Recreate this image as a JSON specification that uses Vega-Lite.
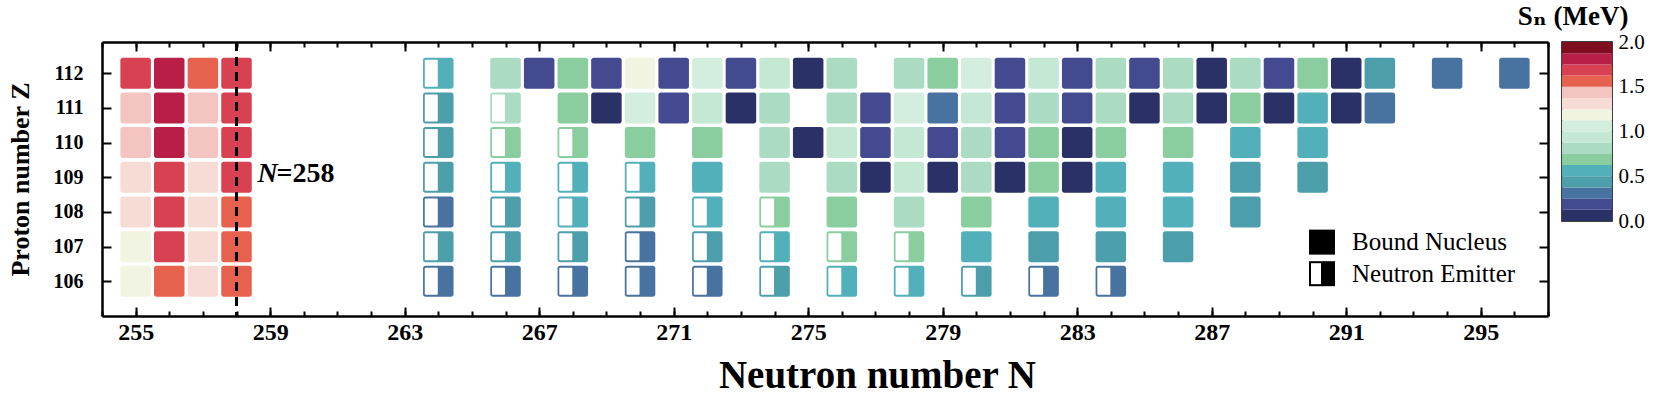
{
  "$schema": "https://vega.github.io/schema/vega-lite/v6.json",
  "background": "white",
  "padding": {"left": 7, "top": 2, "right": 4, "bottom": 4},
  "bounds": "flush",
  "spacing": 14,
  "config": {
    "view": {"stroke": null},
    "font": "Liberation Serif",
    "axis": {"labelColor": "black", "titleColor": "black", "tickColor": "black", "domainColor": "black", "grid": false, "labelFlush": false}
  },
  "datasets": {
    "cells": [
      {"N":255,"Z":112,"Sn":1.69,"kind":"B"},{"N":256,"Z":112,"Sn":1.81,"kind":"B"},{"N":257,"Z":112,"Sn":1.56,"kind":"B"},{"N":258,"Z":112,"Sn":1.69,"kind":"B"},
      {"N":264,"Z":112,"Sn":0.56,"kind":"E"},{"N":266,"Z":112,"Sn":0.81,"kind":"B"},{"N":267,"Z":112,"Sn":0.19,"kind":"B"},{"N":268,"Z":112,"Sn":0.69,"kind":"B"},
      {"N":269,"Z":112,"Sn":0.19,"kind":"B"},{"N":270,"Z":112,"Sn":1.19,"kind":"B"},{"N":271,"Z":112,"Sn":0.19,"kind":"B"},{"N":272,"Z":112,"Sn":1.06,"kind":"B"},
      {"N":273,"Z":112,"Sn":0.19,"kind":"B"},{"N":274,"Z":112,"Sn":0.94,"kind":"B"},{"N":275,"Z":112,"Sn":0.06,"kind":"B"},{"N":276,"Z":112,"Sn":0.81,"kind":"B"},
      {"N":278,"Z":112,"Sn":0.81,"kind":"B"},{"N":279,"Z":112,"Sn":0.69,"kind":"B"},{"N":280,"Z":112,"Sn":1.06,"kind":"B"},{"N":281,"Z":112,"Sn":0.19,"kind":"B"},
      {"N":282,"Z":112,"Sn":0.94,"kind":"B"},{"N":283,"Z":112,"Sn":0.19,"kind":"B"},{"N":284,"Z":112,"Sn":0.81,"kind":"B"},{"N":285,"Z":112,"Sn":0.19,"kind":"B"},
      {"N":286,"Z":112,"Sn":0.81,"kind":"B"},{"N":287,"Z":112,"Sn":0.06,"kind":"B"},{"N":288,"Z":112,"Sn":0.81,"kind":"B"},{"N":289,"Z":112,"Sn":0.19,"kind":"B"},
      {"N":290,"Z":112,"Sn":0.69,"kind":"B"},{"N":291,"Z":112,"Sn":0.06,"kind":"B"},{"N":292,"Z":112,"Sn":0.44,"kind":"B"},{"N":294,"Z":112,"Sn":0.31,"kind":"B"},
      {"N":296,"Z":112,"Sn":0.31,"kind":"B"},

      {"N":255,"Z":111,"Sn":1.44,"kind":"B"},{"N":256,"Z":111,"Sn":1.81,"kind":"B"},{"N":257,"Z":111,"Sn":1.44,"kind":"B"},{"N":258,"Z":111,"Sn":1.69,"kind":"B"},
      {"N":264,"Z":111,"Sn":0.44,"kind":"E"},{"N":266,"Z":111,"Sn":0.81,"kind":"E"},{"N":268,"Z":111,"Sn":0.69,"kind":"B"},{"N":269,"Z":111,"Sn":0.06,"kind":"B"},
      {"N":270,"Z":111,"Sn":1.06,"kind":"B"},{"N":271,"Z":111,"Sn":0.19,"kind":"B"},{"N":272,"Z":111,"Sn":0.94,"kind":"B"},{"N":273,"Z":111,"Sn":0.06,"kind":"B"},
      {"N":274,"Z":111,"Sn":0.81,"kind":"B"},{"N":276,"Z":111,"Sn":0.81,"kind":"B"},{"N":277,"Z":111,"Sn":0.19,"kind":"B"},{"N":278,"Z":111,"Sn":1.06,"kind":"B"},
      {"N":279,"Z":111,"Sn":0.31,"kind":"B"},{"N":280,"Z":111,"Sn":0.94,"kind":"B"},{"N":281,"Z":111,"Sn":0.19,"kind":"B"},{"N":282,"Z":111,"Sn":0.81,"kind":"B"},
      {"N":283,"Z":111,"Sn":0.19,"kind":"B"},{"N":284,"Z":111,"Sn":0.81,"kind":"B"},{"N":285,"Z":111,"Sn":0.06,"kind":"B"},{"N":286,"Z":111,"Sn":0.81,"kind":"B"},
      {"N":287,"Z":111,"Sn":0.06,"kind":"B"},{"N":288,"Z":111,"Sn":0.69,"kind":"B"},{"N":289,"Z":111,"Sn":0.06,"kind":"B"},{"N":290,"Z":111,"Sn":0.56,"kind":"B"},
      {"N":291,"Z":111,"Sn":0.06,"kind":"B"},{"N":292,"Z":111,"Sn":0.31,"kind":"B"},

      {"N":255,"Z":110,"Sn":1.44,"kind":"B"},{"N":256,"Z":110,"Sn":1.81,"kind":"B"},{"N":257,"Z":110,"Sn":1.44,"kind":"B"},{"N":258,"Z":110,"Sn":1.69,"kind":"B"},
      {"N":264,"Z":110,"Sn":0.44,"kind":"E"},{"N":266,"Z":110,"Sn":0.69,"kind":"E"},{"N":268,"Z":110,"Sn":0.69,"kind":"E"},{"N":270,"Z":110,"Sn":0.69,"kind":"B"},
      {"N":272,"Z":110,"Sn":0.69,"kind":"B"},{"N":274,"Z":110,"Sn":0.81,"kind":"B"},{"N":275,"Z":110,"Sn":0.06,"kind":"B"},{"N":276,"Z":110,"Sn":0.94,"kind":"B"},
      {"N":277,"Z":110,"Sn":0.19,"kind":"B"},{"N":278,"Z":110,"Sn":0.94,"kind":"B"},{"N":279,"Z":110,"Sn":0.19,"kind":"B"},{"N":280,"Z":110,"Sn":0.81,"kind":"B"},
      {"N":281,"Z":110,"Sn":0.19,"kind":"B"},{"N":282,"Z":110,"Sn":0.69,"kind":"B"},{"N":283,"Z":110,"Sn":0.06,"kind":"B"},{"N":284,"Z":110,"Sn":0.69,"kind":"B"},
      {"N":286,"Z":110,"Sn":0.69,"kind":"B"},{"N":288,"Z":110,"Sn":0.56,"kind":"B"},{"N":290,"Z":110,"Sn":0.56,"kind":"B"},

      {"N":255,"Z":109,"Sn":1.31,"kind":"B"},{"N":256,"Z":109,"Sn":1.69,"kind":"B"},{"N":257,"Z":109,"Sn":1.31,"kind":"B"},{"N":258,"Z":109,"Sn":1.69,"kind":"B"},
      {"N":264,"Z":109,"Sn":0.44,"kind":"E"},{"N":266,"Z":109,"Sn":0.56,"kind":"E"},{"N":268,"Z":109,"Sn":0.56,"kind":"E"},{"N":270,"Z":109,"Sn":0.56,"kind":"E"},
      {"N":272,"Z":109,"Sn":0.56,"kind":"B"},{"N":274,"Z":109,"Sn":0.81,"kind":"B"},{"N":276,"Z":109,"Sn":0.81,"kind":"B"},{"N":277,"Z":109,"Sn":0.06,"kind":"B"},
      {"N":278,"Z":109,"Sn":0.94,"kind":"B"},{"N":279,"Z":109,"Sn":0.06,"kind":"B"},{"N":280,"Z":109,"Sn":0.81,"kind":"B"},{"N":281,"Z":109,"Sn":0.06,"kind":"B"},
      {"N":282,"Z":109,"Sn":0.69,"kind":"B"},{"N":283,"Z":109,"Sn":0.06,"kind":"B"},{"N":284,"Z":109,"Sn":0.56,"kind":"B"},{"N":286,"Z":109,"Sn":0.56,"kind":"B"},
      {"N":288,"Z":109,"Sn":0.44,"kind":"B"},{"N":290,"Z":109,"Sn":0.44,"kind":"B"},

      {"N":255,"Z":108,"Sn":1.31,"kind":"B"},{"N":256,"Z":108,"Sn":1.69,"kind":"B"},{"N":257,"Z":108,"Sn":1.31,"kind":"B"},{"N":258,"Z":108,"Sn":1.56,"kind":"B"},
      {"N":264,"Z":108,"Sn":0.31,"kind":"E"},{"N":266,"Z":108,"Sn":0.44,"kind":"E"},{"N":268,"Z":108,"Sn":0.56,"kind":"E"},{"N":270,"Z":108,"Sn":0.44,"kind":"E"},
      {"N":272,"Z":108,"Sn":0.56,"kind":"E"},{"N":274,"Z":108,"Sn":0.69,"kind":"E"},{"N":276,"Z":108,"Sn":0.69,"kind":"B"},{"N":278,"Z":108,"Sn":0.81,"kind":"B"},
      {"N":280,"Z":108,"Sn":0.69,"kind":"B"},{"N":282,"Z":108,"Sn":0.56,"kind":"B"},{"N":284,"Z":108,"Sn":0.56,"kind":"B"},{"N":286,"Z":108,"Sn":0.56,"kind":"B"},
      {"N":288,"Z":108,"Sn":0.44,"kind":"B"},

      {"N":255,"Z":107,"Sn":1.19,"kind":"B"},{"N":256,"Z":107,"Sn":1.69,"kind":"B"},{"N":257,"Z":107,"Sn":1.31,"kind":"B"},{"N":258,"Z":107,"Sn":1.56,"kind":"B"},
      {"N":264,"Z":107,"Sn":0.44,"kind":"E"},{"N":266,"Z":107,"Sn":0.44,"kind":"E"},{"N":268,"Z":107,"Sn":0.44,"kind":"E"},{"N":270,"Z":107,"Sn":0.31,"kind":"E"},
      {"N":272,"Z":107,"Sn":0.44,"kind":"E"},{"N":274,"Z":107,"Sn":0.56,"kind":"E"},{"N":276,"Z":107,"Sn":0.69,"kind":"E"},{"N":278,"Z":107,"Sn":0.69,"kind":"E"},
      {"N":280,"Z":107,"Sn":0.56,"kind":"B"},{"N":282,"Z":107,"Sn":0.44,"kind":"B"},{"N":284,"Z":107,"Sn":0.44,"kind":"B"},{"N":286,"Z":107,"Sn":0.44,"kind":"B"},

      {"N":255,"Z":106,"Sn":1.19,"kind":"B"},{"N":256,"Z":106,"Sn":1.56,"kind":"B"},{"N":257,"Z":106,"Sn":1.31,"kind":"B"},{"N":258,"Z":106,"Sn":1.56,"kind":"B"},
      {"N":264,"Z":106,"Sn":0.31,"kind":"E"},{"N":266,"Z":106,"Sn":0.31,"kind":"E"},{"N":268,"Z":106,"Sn":0.31,"kind":"E"},{"N":270,"Z":106,"Sn":0.31,"kind":"E"},
      {"N":272,"Z":106,"Sn":0.31,"kind":"E"},{"N":274,"Z":106,"Sn":0.44,"kind":"E"},{"N":276,"Z":106,"Sn":0.56,"kind":"E"},{"N":278,"Z":106,"Sn":0.56,"kind":"E"},
      {"N":280,"Z":106,"Sn":0.44,"kind":"E"},{"N":282,"Z":106,"Sn":0.31,"kind":"E"},{"N":284,"Z":106,"Sn":0.31,"kind":"E"}
    ],
    "bins": [
      {"lo":0.0,"hi":0.125,"Sn":0.06},{"lo":0.125,"hi":0.25,"Sn":0.19},{"lo":0.25,"hi":0.375,"Sn":0.31},{"lo":0.375,"hi":0.5,"Sn":0.44},
      {"lo":0.5,"hi":0.625,"Sn":0.56},{"lo":0.625,"hi":0.75,"Sn":0.69},{"lo":0.75,"hi":0.875,"Sn":0.81},{"lo":0.875,"hi":1.0,"Sn":0.94},
      {"lo":1.0,"hi":1.125,"Sn":1.06},{"lo":1.125,"hi":1.25,"Sn":1.19},{"lo":1.25,"hi":1.375,"Sn":1.31},{"lo":1.375,"hi":1.5,"Sn":1.44},
      {"lo":1.5,"hi":1.625,"Sn":1.56},{"lo":1.625,"hi":1.75,"Sn":1.69},{"lo":1.75,"hi":1.875,"Sn":1.81},{"lo":1.875,"hi":2.0,"Sn":1.94}
    ],
    "legend": [
      {"label":"Bound Nucleus","N":290.28,"Z":107.13,"kind":"B"},
      {"label":"Neutron Emitter","N":290.28,"Z":106.22,"kind":"E"}
    ],
    "marker": [{"N":258,"Z":109}]
  },
  "hconcat": [
    {
      "width": 1446,
      "height": 274,
      "resolve": {"axis": {"x": "independent", "y": "independent"}},
      "layer": [
        {
          "data": {"name": "cells"},
          "mark": {"type": "rect", "width": 30.5, "height": 31, "cornerRadius": 2.5},
          "encoding": {
            "x": {"field": "N", "type": "quantitative", "scale": {"domain": [254, 297], "nice": false, "zero": false},
              "axis": {"orient": "bottom", "values": [255,259,263,267,271,275,279,283,287,291,295], "format": "d",
                "tickSize": -9, "tickWidth": 2, "domainWidth": 2.5, "labelFontSize": 24, "labelFontWeight": "bold", "labelFont": "Liberation Serif",
                "labelPadding": 13, "title": "Neutron number N", "titleFont": "Liberation Serif", "titleFontSize": 39, "titleFontWeight": "bold", "titlePadding": 12, "titleX": 775, "titleAlign": "center"}},
            "y": {"field": "Z", "type": "quantitative", "scale": {"domain": [105, 112.9], "nice": false, "zero": false},
              "axis": {"orient": "left", "values": [106,107,108,109,110,111,112], "format": "d",
                "tickSize": -9, "tickWidth": 2, "domainWidth": 2.5, "labelFontSize": 20, "labelFontWeight": "bold", "labelFont": "Liberation Serif",
                "labelPadding": 28, "title": "Proton number Z", "titleFont": "Liberation Serif", "titleFontSize": 26, "titleFontWeight": "bold", "titlePadding": 20}},
            "color": {"field": "Sn", "type": "quantitative", "legend": null,
              "scale": {"type": "quantize", "domain": [0, 2], "nice": false,
                "range": ["#2a3167","#434a90","#4873a0","#4c9eaa","#51b0b9","#8ace9f","#abdbc2","#c5e8d5","#d3eede","#f1f4e0","#f6dcd5","#f4c4c1","#e6614e","#d74152","#b91e47","#7f0d20"]}}
          }
        },
        {
          "data": {"name": "cells"},
          "transform": [{"filter": "datum.kind === 'E'"}],
          "mark": {"type": "rect", "width": 13, "height": 27, "xOffset": -7, "fill": "white", "cornerRadius": 1},
          "encoding": {
            "x": {"field": "N", "type": "quantitative", "scale": {"domain": [254, 297], "nice": false, "zero": false},
              "axis": {"orient": "bottom", "values": [254,255,256,257,258,259,260,261,262,263,264,265,266,267,268,269,270,271,272,273,274,275,276,277,278,279,280,281,282,283,284,285,286,287,288,289,290,291,292,293,294,295,296,297],
                "tickSize": -5, "tickWidth": 2, "labels": false, "domain": false, "title": null}},
            "y": {"field": "Z", "type": "quantitative", "scale": {"domain": [105, 112.9], "nice": false, "zero": false},
              "axis": {"orient": "right", "values": [106,107,108,109,110,111,112], "tickSize": -9, "tickWidth": 2, "domainWidth": 2.5, "labels": false, "title": null}}
          }
        },
        {
          "data": {"name": "marker"},
          "mark": {"type": "rule", "strokeDash": [9, 6], "strokeWidth": 3, "color": "black"},
          "encoding": {
            "x": {"field": "N", "type": "quantitative", "scale": {"domain": [254, 297], "nice": false, "zero": false},
              "axis": {"orient": "top", "values": [255,259,263,267,271,275,279,283,287,291,295], "tickSize": -9, "tickWidth": 2, "domainWidth": 2.5, "labels": false, "title": null}}
          }
        },
        {
          "data": {"name": "marker"},
          "mark": {"type": "text", "text": "N", "align": "left", "baseline": "middle", "dx": 21, "dy": -3, "fontSize": 28, "fontWeight": "bold", "fontStyle": "italic", "font": "Liberation Serif", "color": "black"},
          "encoding": {
            "x": {"field": "N", "type": "quantitative", "scale": {"domain": [254, 297], "nice": false, "zero": false},
              "axis": {"orient": "top", "values": [254,255,256,257,258,259,260,261,262,263,264,265,266,267,268,269,270,271,272,273,274,275,276,277,278,279,280,281,282,283,284,285,286,287,288,289,290,291,292,293,294,295,296,297],
                "tickSize": -5, "tickWidth": 2, "labels": false, "domain": false, "title": null}},
            "y": {"field": "Z", "type": "quantitative", "scale": {"domain": [105, 112.9], "nice": false, "zero": false}, "axis": null}
          }
        },
        {
          "data": {"name": "marker"},
          "mark": {"type": "text", "text": "=258", "align": "left", "baseline": "middle", "dx": 40, "dy": -3, "fontSize": 28, "fontWeight": "bold", "font": "Liberation Serif", "color": "black"},
          "encoding": {
            "x": {"field": "N", "type": "quantitative", "scale": {"domain": [254, 297], "nice": false, "zero": false}, "axis": null},
            "y": {"field": "Z", "type": "quantitative", "scale": {"domain": [105, 112.9], "nice": false, "zero": false}, "axis": null}
          }
        },
        {
          "data": {"name": "legend"},
          "mark": {"type": "rect", "width": 26, "height": 25, "fill": "black"},
          "encoding": {
            "x": {"field": "N", "type": "quantitative", "scale": {"domain": [254, 297], "nice": false, "zero": false}, "axis": null},
            "y": {"field": "Z", "type": "quantitative", "scale": {"domain": [105, 112.9], "nice": false, "zero": false}, "axis": null}
          }
        },
        {
          "data": {"name": "legend"},
          "transform": [{"filter": "datum.kind === 'E'"}],
          "mark": {"type": "rect", "width": 10, "height": 21, "xOffset": -6, "fill": "white"},
          "encoding": {
            "x": {"field": "N", "type": "quantitative", "scale": {"domain": [254, 297], "nice": false, "zero": false}, "axis": null},
            "y": {"field": "Z", "type": "quantitative", "scale": {"domain": [105, 112.9], "nice": false, "zero": false}, "axis": null}
          }
        },
        {
          "data": {"name": "legend"},
          "mark": {"type": "text", "align": "left", "baseline": "middle", "dx": 30, "fontSize": 25, "font": "Liberation Serif", "color": "black"},
          "encoding": {
            "x": {"field": "N", "type": "quantitative", "scale": {"domain": [254, 297], "nice": false, "zero": false}, "axis": null},
            "y": {"field": "Z", "type": "quantitative", "scale": {"domain": [105, 112.9], "nice": false, "zero": false}, "axis": null},
            "text": {"field": "label", "type": "nominal"}
          }
        }
      ]
    },
    {
      "width": 50,
      "height": 179,
      "data": {"name": "bins"},
      "view": {"stroke": "black", "strokeWidth": 1.5},
      "title": {"text": "Sₙ (MeV)", "font": "Liberation Serif, DejaVu Serif", "fontSize": 27, "fontWeight": "bold", "color": "black", "offset": 0, "dx": -14},
      "mark": {"type": "rect"},
      "encoding": {
        "y": {"field": "lo", "type": "quantitative", "scale": {"domain": [0, 2], "nice": false, "zero": false},
          "axis": {"orient": "right", "values": [0, 0.5, 1, 1.5, 2], "format": ".1f", "ticks": false, "domain": false, "labelFontSize": 21, "labelFont": "Liberation Serif", "labelPadding": 6, "title": null}},
        "y2": {"field": "hi"},
        "color": {"field": "Sn", "type": "quantitative", "legend": null,
          "scale": {"type": "quantize", "domain": [0, 2], "nice": false,
            "range": ["#2a3167","#434a90","#4873a0","#4c9eaa","#51b0b9","#8ace9f","#abdbc2","#c5e8d5","#d3eede","#f1f4e0","#f6dcd5","#f4c4c1","#e6614e","#d74152","#b91e47","#7f0d20"]}}
      }
    }
  ]
}
